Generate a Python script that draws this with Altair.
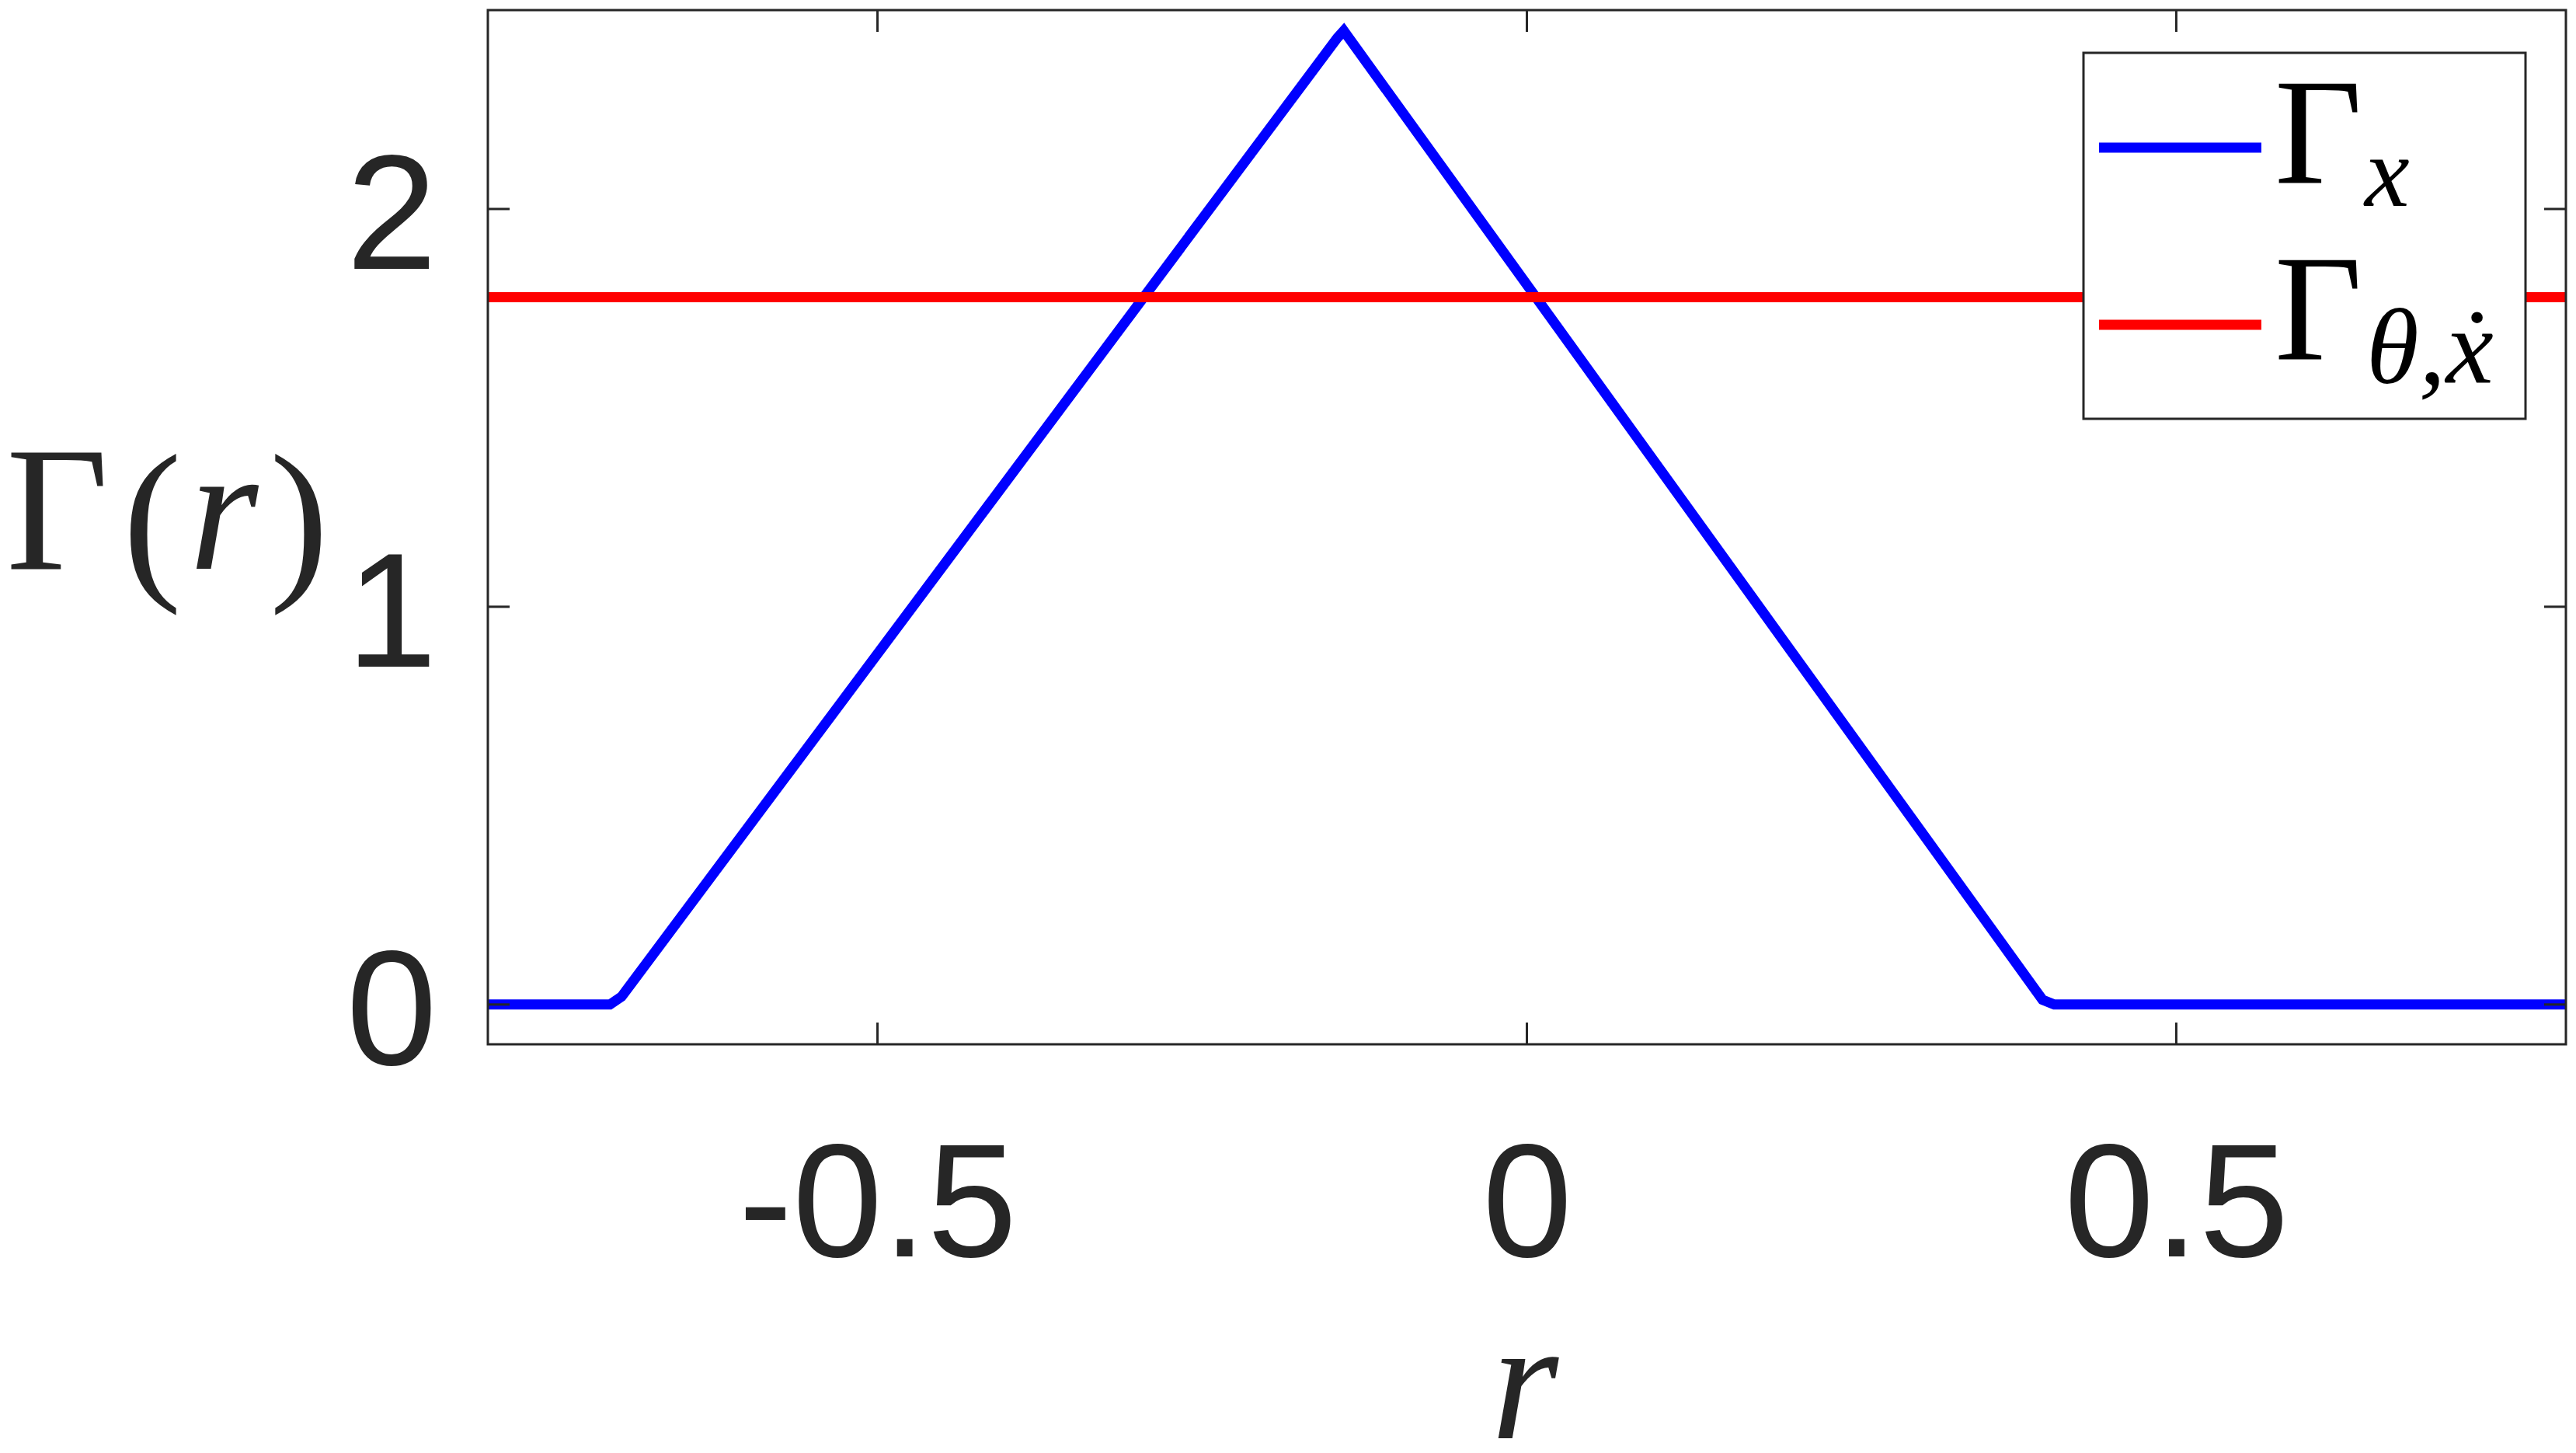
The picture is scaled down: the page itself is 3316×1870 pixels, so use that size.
import altair as alt
import pandas as pd

# ---- data ----
r_x = [-0.8, -0.706, -0.697, -0.146, -0.141, 0.397, 0.406, 0.8]
gamma_x = [0.0, 0.0, 0.02, 2.43, 2.448, 0.012, 0.0, 0.0]
r_theta = [-0.8, 0.8]
gamma_theta = [1.778, 1.778]
series_names = ["Gamma_x", "Gamma_theta_xdot"]
series_colors = ["#0000FF", "#FF0000"]
x_ticks = [-0.5, 0.0, 0.5]
y_ticks = [0, 1, 2]
x_domain = [-0.8, 0.8]
y_domain = [-0.1, 2.5]

W, H = 2675, 1331
INK = "#262626"
SANS = "Liberation Sans"
SERIF = "Liberation Serif"

lines_df = pd.DataFrame(
    {"r": r_x + r_theta,
     "g": gamma_x + gamma_theta,
     "s": [series_names[0]] * len(r_x) + [series_names[1]] * len(r_theta)}
)
xt_df = pd.DataFrame({"v": x_ticks})
yt_df = pd.DataFrame({"v": y_ticks})
one = pd.DataFrame({"k": [0]})

xs = alt.Scale(domain=x_domain, nice=False, zero=False)
ys = alt.Scale(domain=y_domain, nice=False, zero=False)

x_axis = alt.Axis(
    values=x_ticks, tickSize=0, domain=False, grid=False, title=None,
    labelFont=SANS, labelFontSize=208, labelColor=INK, labelPadding=108,
    labelOverlap=False, labelLimit=0,
    labelExpr="datum.value == 0 ? '0' : (datum.value < 0 ? '-' : '') + format(abs(datum.value), '.1f')",
)
y_axis = alt.Axis(
    values=y_ticks, tickSize=0, domain=False, grid=False, title=None,
    labelFont=SANS, labelFontSize=210, labelColor=INK, labelPadding=66,
    labelOverlap=False, labelLimit=0, labelOffset=14,
    labelExpr="format(datum.value, 'd')",
)

lines = alt.Chart(lines_df).mark_line(strokeWidth=13, clip=True).encode(
    x=alt.X("r:Q", scale=xs, axis=x_axis),
    y=alt.Y("g:Q", scale=ys, axis=y_axis),
    color=alt.Color("s:N", scale=alt.Scale(domain=series_names, range=series_colors), legend=None),
    detail="s:N",
)

frame = alt.Chart(one).mark_rect(fillOpacity=0, stroke=INK, strokeWidth=3).encode(
    x=alt.value(0), x2=alt.value(W), y=alt.value(0), y2=alt.value(H))

tick_len = 28
bot_ticks = alt.Chart(xt_df).mark_rule(color=INK, strokeWidth=3).encode(
    x=alt.X("v:Q", scale=xs), y=alt.value(H), y2=alt.value(H - tick_len))
top_ticks = alt.Chart(xt_df).mark_rule(color=INK, strokeWidth=3).encode(
    x=alt.X("v:Q", scale=xs), y=alt.value(0), y2=alt.value(tick_len))
left_ticks = alt.Chart(yt_df).mark_rule(color=INK, strokeWidth=3).encode(
    y=alt.Y("v:Q", scale=ys), x=alt.value(0), x2=alt.value(tick_len))
right_ticks = alt.Chart(yt_df).mark_rule(color=INK, strokeWidth=3).encode(
    y=alt.Y("v:Q", scale=ys), x=alt.value(W), x2=alt.value(W - tick_len))

# legend box
leg_box = alt.Chart(one).mark_rect(fill="white", stroke=INK, strokeWidth=3).encode(
    x=alt.value(2054), x2=alt.value(2623), y=alt.value(55), y2=alt.value(526))
leg_l1 = alt.Chart(one).mark_rule(color=series_colors[0], strokeWidth=13).encode(
    x=alt.value(2074), x2=alt.value(2283), y=alt.value(177))
leg_l2 = alt.Chart(one).mark_rule(color=series_colors[1], strokeWidth=13).encode(
    x=alt.value(2074), x2=alt.value(2283), y=alt.value(405))


def txt(s, x, y, size, italic=False, align="left", font=SERIF, color="black"):
    kw = dict(text=s, font=font, fontSize=size, align=align, baseline="alphabetic", color=color)
    if italic:
        kw["fontStyle"] = "italic"
    return alt.Chart(one).mark_text(**kw).encode(x=alt.value(x), y=alt.value(y))


legend_texts = [
    txt("Γ", 2300, 223, 195),
    txt("x", 2416, 252, 130, italic=True),
    txt("Γ", 2300, 450, 195),
    txt("θ,ẋ", 2418, 480, 138, italic=True),
]

ylabel = [
    txt("Γ", -554, 719, 228, align="center", color=INK),
    txt("(", -432, 730, 228, align="center", color=INK),
    txt("r", -340, 719, 228, italic=True, align="center", color=INK),
    txt(")", -243, 730, 228, align="center", color=INK),
]
xlabel = [txt("r", 1335, 1838, 222, italic=True, align="center", color=INK)]

chart = alt.layer(
    lines, frame, bot_ticks, top_ticks, left_ticks, right_ticks,
    leg_box, leg_l1, leg_l2, *legend_texts, *ylabel, *xlabel
).properties(
    width=W, height=H,
    autosize=alt.AutoSizeParams(type="none"),
    padding={"left": 620, "top": 5, "right": 5, "bottom": 517},
).configure_view(strokeWidth=0).configure(background="white")

chart.save("out.html", embed_options={"renderer": "svg", "actions": False})
